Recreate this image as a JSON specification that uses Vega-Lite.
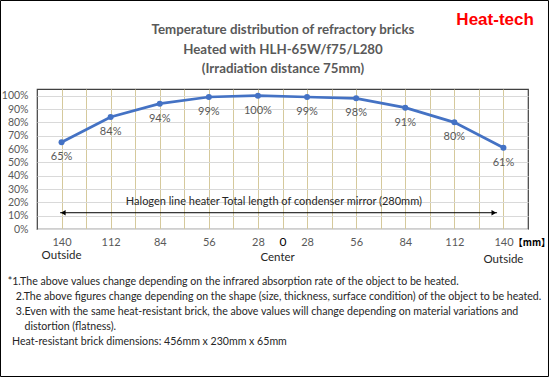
{
  "$schema": "https://vega.github.io/schema/vega-lite/v6.json",
  "width": 491,
  "height": 140,
  "autosize": {"type": "none"},
  "padding": {"left": 37, "top": 89, "right": 22, "bottom": 148},
  "background": "white",
  "config": {
    "view": {"stroke": "#404040", "strokeWidth": 1.2},
    "font": "Lato"
  },
  "datasets": {
    "pts": [
      {"x": 1, "y": 0.65, "label": "65%"},
      {"x": 3, "y": 0.84, "label": "84%"},
      {"x": 5, "y": 0.94, "label": "94%"},
      {"x": 7, "y": 0.99, "label": "99%"},
      {"x": 9, "y": 1.0, "label": "100%"},
      {"x": 11, "y": 0.99, "label": "99%"},
      {"x": 13, "y": 0.98, "label": "98%"},
      {"x": 15, "y": 0.91, "label": "91%"},
      {"x": 17, "y": 0.8, "label": "80%"},
      {"x": 19, "y": 0.61, "label": "61%"}
    ],
    "arrow": [{"x": 0.94, "x2": 18.74, "y": 0.122}],
    "heads": [
      {"x": 1.07, "y": 0.122, "shape": "triangle-left"},
      {"x": 18.61, "y": 0.122, "shape": "triangle-right"}
    ],
    "arrowText": [{"x": 9.65, "y": 0.205, "text": "Halogen line heater Total length of condenser mirror (280mm)"}],
    "title": [
      {"x": 10.02, "y": 1.4925, "text": "Temperature distribution of refractory bricks"},
      {"x": 10.02, "y": 1.3425, "text": "Heated with HLH-65W/f75/L280"},
      {"x": 10.02, "y": 1.1978, "text": "(Irradiation distance 75mm)"}
    ],
    "sub": [
      {"x": 1, "y": -0.199, "text": "Outside"},
      {"x": 9.8, "y": -0.2175, "text": "Center"},
      {"x": 19, "y": -0.2325, "text": "Outside"}
    ],
    "unit": [{"x": 19.4, "y": -0.107, "text": "【mm】"}],
    "notes": [
      {"x": -1.193, "y": -0.394, "text": "*1.The above values change depending on the infrared absorption rate of the object to be heated."},
      {"x": -0.864, "y": -0.51, "text": "2.The above figures change depending on the shape (size, thickness, surface condition) of the object to be heated."},
      {"x": -0.864, "y": -0.625, "text": "3.Even with the same heat-resistant brick, the above values will change depending on material variations and"},
      {"x": -0.509, "y": -0.735, "text": "distortion (flatness)."},
      {"x": -1.018, "y": -0.844, "text": "Heat-resistant brick dimensions: 456mm x 230mm x 65mm"}
    ],
    "logo": [{"x": 18.66, "y": 1.5675, "text": "Heat-tech"}],
    "frame": [{"x": -1.4868, "x2": 20.835, "y": 1.7138, "y2": -1.10625}]
  },
  "encoding": {
    "x": {
      "field": "x",
      "type": "quantitative",
      "scale": {"domain": [0, 20], "nice": false, "zero": false},
      "axis": {
        "title": null,
        "values": [1, 2, 3, 4, 5, 6, 7, 8, 9, 10, 11, 12, 13, 14, 15, 16, 17, 18, 19],
        "labelExpr": "datum.value==1||datum.value==19?'140':datum.value==3||datum.value==17?'112':datum.value==5||datum.value==15?'84':datum.value==7||datum.value==13?'56':datum.value==9||datum.value==11?'28':datum.value==10?'0':''",
        "grid": true,
        "gridColor": "#D5C99C",
        "gridWidth": 1,
        "domain": false,
        "ticks": false,
        "labelPadding": 7,
        "labelFont": "Lato",
        "labelFontSize": {"condition": {"test": "datum.value==10", "value": 12}, "value": 11},
        "labelColor": {"condition": {"test": "datum.value==10", "value": "#000000"}, "value": "#595959"},
        "labelOverlap": false
      }
    },
    "y": {
      "field": "y",
      "type": "quantitative",
      "scale": {"domain": [0, 1.05], "nice": false, "zero": false},
      "axis": {
        "title": null,
        "values": [0, 0.1, 0.2, 0.3, 0.4, 0.5, 0.6, 0.7, 0.8, 0.9, 1.0],
        "format": ".0%",
        "grid": true,
        "gridColor": "#D9D9D9",
        "domain": false,
        "ticks": false,
        "labelPadding": 9,
        "labelFont": "Lato",
        "labelFontSize": 10.5,
        "labelColor": "#595959",
        "labelOverlap": false
      }
    }
  },
  "layer": [
    {
      "data": {"name": "pts"},
      "mark": {"type": "line", "color": "#4472C4", "strokeWidth": 2.75, "point": {"filled": true, "size": 36, "color": "#4472C4"}}
    },
    {
      "data": {"name": "pts"},
      "mark": {"type": "text", "dy": 15, "fontSize": 11, "color": "#595959", "font": "Lato"},
      "encoding": {"text": {"field": "label"}}
    },
    {
      "data": {"name": "arrow"},
      "mark": {"type": "rule", "color": "#000000", "strokeWidth": 1},
      "encoding": {"x2": {"field": "x2"}}
    },
    {
      "data": {"name": "heads"},
      "mark": {"type": "point", "filled": true, "color": "#000000", "size": 30, "opacity": 1},
      "encoding": {"shape": {"field": "shape", "type": "nominal", "scale": null, "legend": null}}
    },
    {
      "data": {"name": "arrowText"},
      "mark": {"type": "text", "fontSize": 11, "color": "#262626", "font": "Lato"},
      "encoding": {"text": {"field": "text"}}
    },
    {
      "data": {"name": "title"},
      "mark": {"type": "text", "fontSize": 13.3, "fontWeight": "bold", "color": "#595959", "font": "Lato"},
      "encoding": {"text": {"field": "text"}}
    },
    {
      "data": {"name": "sub"},
      "mark": {"type": "text", "fontSize": 11.5, "color": "#262626", "font": "Lato"},
      "encoding": {"text": {"field": "text"}}
    },
    {
      "data": {"name": "unit"},
      "mark": {"type": "text", "fontSize": 9.5, "fontWeight": "bold", "color": "#000000", "font": "Noto Sans CJK JP", "align": "left"},
      "encoding": {"text": {"field": "text"}}
    },
    {
      "data": {"name": "notes"},
      "mark": {"type": "text", "fontSize": 10.6, "color": "#262626", "font": "Lato", "align": "left"},
      "encoding": {"text": {"field": "text"}}
    },
    {
      "data": {"name": "logo"},
      "mark": {"type": "text", "fontSize": 17, "fontWeight": "bold", "color": "#FF0000", "font": "Liberation Sans"},
      "encoding": {"text": {"field": "text"}}
    },
    {
      "data": {"name": "frame"},
      "mark": {"type": "rect", "fill": null, "stroke": "#000000", "strokeWidth": 1},
      "encoding": {"x2": {"field": "x2"}, "y2": {"field": "y2"}}
    }
  ]
}
